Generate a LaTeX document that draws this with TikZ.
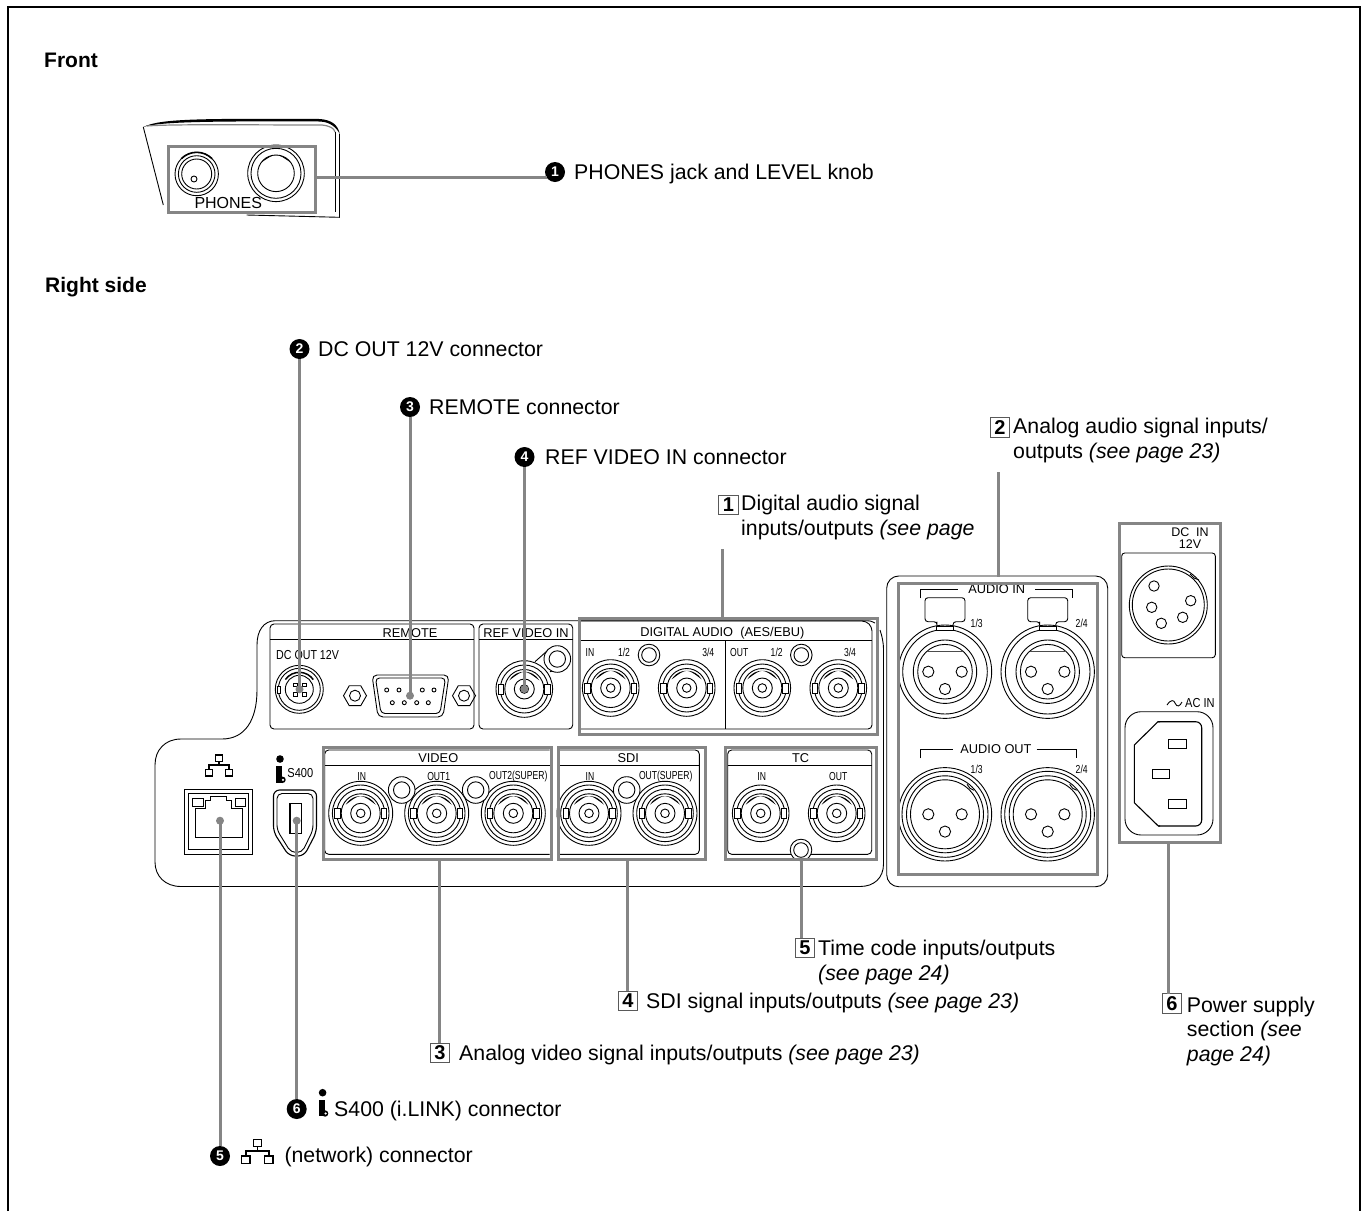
\documentclass[tikz,border=0pt]{standalone}
\usepackage{fontspec}
\setmainfont{Liberation Sans}

\definecolor{leadgray}{gray}{0.52}

\tikzset{
    lbl/.style={font=\fontsize{21.3}{24.8}\selectfont, inner sep=0pt, align=left},
    head/.style={font=\fontsize{21}{24}\selectfont\bfseries, inner sep=0pt},
    paneltxt/.style={font=\fontsize{12.8}{14}\selectfont, inner sep=0pt},
    smalltxt/.style={font=\fontsize{11.6}{13}\selectfont, inner sep=0pt, xscale=.74},
    numdot/.style={circle, fill=black, text=white, font=\fontsize{14}{14}\selectfont\bfseries, inner sep=0pt, minimum size=20pt},
    numbox/.style={draw=black!65, line width=.9pt, font=\fontsize{20}{20}\selectfont\bfseries, inner sep=0pt, minimum size=19.5pt},
    graybox/.style={draw=leadgray, line width=3.3pt, inner sep=0pt, anchor=north west},
    leader/.style={draw=leadgray, line width=3pt},
    thin line/.style={line width=.9pt},
    bncjack/.pic={
        \draw[thin line, fill=white] (0,0) circle[radius=28.3];
        \draw[thin line] (0,0) circle[radius=24] (0,0) circle[radius=19.5] (0,0) circle[radius=10] (0,0) circle[radius=4.3];
        \fill (210:17.3) arc[start angle=210, end angle=330, radius=17.3] .. controls (0,-20) .. cycle;
        \draw[thin line, fill=white] (-26,-5) rectangle (-20.5,5) (20.5,-5) rectangle (26,5);
    },
    bncwide/.pic={
        \draw[thin line, fill=white] (0,0) circle[radius=32];
        \pic at (0,0) {bncjack};
    },
    holesmall/.pic={
        \draw[thin line, fill=white] (0,0) circle[radius=10.8] (0,0) circle[radius=7.3];
    },
    holewide/.pic={
        \draw[thin line, fill=white] (0,0) circle[radius=13.3] (0,0) circle[radius=8.2];
    },
    xlrpins/.pic={
        \draw[thin line] (-16.7,0) circle[radius=5.6] (16.7,0) circle[radius=5.6] (0,17.3) circle[radius=5.6];
    },
    xlrin/.pic={
        \draw[thin line, rounded corners=3pt] (-8,-40) -- (-8,-47) -- (-8,-50) -- (-20,-50) -- (-20,-74) -- (20,-74) -- (20,-50) -- (8,-50) -- (8,-40);
        \draw[thin line, fill=white] (0,0) circle[radius=46.7] (0,0) circle[radius=42.3];
        \draw[thin line] (0,0) circle[radius=31.7] (0,0) circle[radius=27.3];
        \draw[line width=1.4pt, fill=white] (-8.5,-45.5) rectangle (8.5,-41.5);
        \draw[line width=1.2pt, black!70] (-18,-20) -- (18,-20);
        \pic at (0,0) {xlrpins};
    },
    xlrout/.pic={
        \draw[thin line] (0,0) circle[radius=46.7] (0,0) circle[radius=43] (0,0) circle[radius=38.5] (0,0) circle[radius=34.5];
        \draw[thin line] (22,-30) -- (25,-26) -- (29,-24);
        \pic at (0,0) {xlrpins};
    },
    netsym/.pic={
        \draw[line width=1.4pt] (-3.5,-11) rectangle (3.5,-4.8) (-13.5,3.5) rectangle (-6.5,10) (6.5,3.5) rectangle (13.5,10);
        \draw[line width=1.4pt] (0,-4.8) -- (0,-1) (-10,3.5) -- (-10,-1) -- (10,-1) -- (10,3.5);
    },
    ilinksym/.pic={
        \fill (0,-8.5) circle[radius=3.8];
        \fill (-4,-1.5) rectangle (2,15);
        \fill (2.5,12.3) circle[radius=3.2];
        \fill[white] (3,12.3) circle[radius=1.2];
    },
}

\begin{document}
\begin{tikzpicture}[x=1pt,y=-1pt]
    \useasboundingbox (0,0) rectangle (1361,1211);

    % page frame
    \draw[line width=2.4pt] (8,1211) -- (8,7) -- (1359.7,7) -- (1359.7,1211);

    \node[head, anchor=base west] (fronthead) at (44,67) {Front};
    \node[head, anchor=base west] (sidehead) at (45,292) {Right side};

    % front panel
    \fill (143.3,127) .. controls (160,118.5) and (200,118.5) .. (320,119) .. controls (332,120) and (338,125) .. (339.8,134) .. controls (336,127) and (330,122) .. (320,121.5) .. controls (200,121) and (160,122) .. cycle;
    \draw[leadgray, line width=1.2pt] (147,126) .. controls (170,124) and (250,125) .. (322,125) .. controls (330,126) and (334,128) .. (335,132);
    \draw[thin line] (143.3,127) -- (163.3,205);
    \draw[thin line] (339.5,134) -- (339.5,217.3) -- (246.7,215);
    \draw[thin line] (335,132) -- (335,212);
    \draw[thin line] (196.7,174) circle[radius=21.7] (196.7,174) circle[radius=18.3] (196.7,174) circle[radius=15] (194,179) circle[radius=3];
    \draw[line width=1.6pt] (196.7,174) ++(225:21.7) arc[start angle=225, end angle=315, radius=21.7];
    \draw[thin line] (276,173.3) circle[radius=28.3] (276,173.3) circle[radius=25] (276,173.3) circle[radius=18.3];
    \fill (276,173.3) ++(215:18.3) arc[start angle=215, end angle=325, radius=18.3] .. controls (276,152.3) .. cycle;
    \node[font=\fontsize{16}{16}\selectfont, inner sep=0pt] (phonestxt) at (228.3,203.3) {PHONES};
    \node[graybox, minimum width=147.5pt, minimum height=66pt] (phonesbox) at (166.5,145) {};

    % rear panel outline
    \draw[thin line] (880,630) .. controls (882,636) and (883.5,642) .. (883.5,650) -- (883.5,864) .. controls (883.5,878) and (874,886.5) .. (860,886.5) -- (181,886.5) .. controls (165,886.5) and (155,876) .. (155,862) -- (155,765) .. controls (155,750) and (165,739) .. (181,739) -- (222,739) .. controls (245,739) and (257,720) .. (257,690) -- (257,645) .. controls (257,630) and (264,621) .. (275,620.7) -- (866,620.7) .. controls (870,620.7) and (873,621.5) .. (875,623);
    \draw[thin line, rounded corners=4pt] (270,639) -- (270,624) -- (474,624) -- (474,729) -- (270,729) -- cycle;
    \draw[thin line] (270,639) -- (474,639);
    \draw[thin line, rounded corners=4pt] (479,639) -- (479,624) -- (572.7,624) -- (572.7,729) -- (479,729) -- cycle;
    \draw[thin line] (479,639) -- (572.7,639);
    \draw[thin line, rounded corners=4pt] (579,621) -- (866,621) -- (872,627) -- (872,729) -- (579,729);
    \draw[thin line] (579,640.7) -- (872,640.7) (725,640.7) -- (725,729);

    % dc out
    \draw[thin line] (299.3,689.3) circle[radius=24] (299.3,689.3) circle[radius=21] (299.3,689.3) circle[radius=14];
    \draw[thin line, fill=white] (277,686) rectangle (280,693);
    \foreach \x in {293.5,302} {
        \draw[thin line] (\x,683) rectangle ++(4,3.5) (\x,692.5) rectangle ++(4,3.5);
    }
    \draw[line width=1.5pt] (299.3,689.3) ++(215:17) arc[start angle=215, end angle=325, radius=17];

    % remote connector
    \draw[thin line, rounded corners=5pt] (372,675) -- (449,675) -- (443,717) -- (378,717) -- cycle;
    \draw[thin line, rounded corners=4pt] (375.5,678) -- (445.5,678) -- (440,713.5) -- (381,713.5) -- cycle;
    \foreach \x in {386.7,399,422.3,434} \draw[thin line] (\x,690) circle[radius=2];
    \foreach \x in {392.3,404.3,416.7,428.3} \draw[thin line] (\x,702.7) circle[radius=2];
    \foreach \x in {355,464} {
        \draw[thin line] (\x,695.7) ++(0:11.5) -- ++(120:11.5) -- ++(180:11.5) -- ++(240:11.5) -- ++(300:11.5) -- ++(0:11.5) -- cycle;
        \draw[thin line] (\x,695.7) circle[radius=5.5];
    }

    % ref video in
    \draw[thin line] (535,661.7) -- (550,648.3) (550,671.7) -- (565,668);
    \pic at (524.3,689) {bncjack};
    \pic at (557.3,659) {holewide};

    % digital audio
    \foreach \x in {610.7,686.7,762.3,838.3} \pic at (\x,688) {bncjack};
    \pic at (649,655) {holesmall};
    \pic at (801.3,655) {holesmall};

    % network and i.link ports
    \pic at (219,766) {netsym};
    \draw[thin line] (184.3,789) rectangle (252.7,854) (188.3,793.3) rectangle (248.3,849.3);
    \draw[thin line] (195,808.3) -- (205,808.3) -- (205,800.7) -- (210,800.7) -- (210,796.7) -- (226.7,796.7) -- (226.7,800.7) -- (231.7,800.7) -- (231.7,808.3) -- (242.3,808.3) -- (242.3,837.3) -- (195,837.3) -- cycle;
    \draw[thin line] (192.3,798.3) rectangle (203.3,806) (235,798.3) rectangle (245,806);
    \pic at (280,767.5) {ilinksym};
    \node[font=\fontsize{13}{13}\selectfont, inner sep=0pt, xscale=.85, anchor=west] (s400txt) at (287.3,772.7) {S400};
    \draw[line width=1.1pt, rounded corners=6pt] (273.5,790) -- (316.5,790) -- (316.5,832) -- (304,856) -- (289,856) -- (273.5,832) -- cycle;
    \draw[thin line, rounded corners=5pt] (277,793.5) -- (313,793.5) -- (313,830) -- (302,852.5) -- (291,852.5) -- (277,830) -- cycle;
    \draw[line width=1.1pt] (290,803.3) rectangle (301.7,833.3);

    % video, sdi, tc
    \draw[thin line, rounded corners=4pt] (549.7,750) -- (324.7,750) -- (324.7,854.3) -- (549.7,854.3);
    \draw[thin line] (324.7,765) -- (549.7,765);
    \foreach \x in {360.7,436.7,513.3} \pic at (\x,813.3) {bncwide};
    \pic at (401.7,790) {holewide};
    \pic at (475.7,790) {holewide};
    \draw[thin line, rounded corners=4pt] (558,750) -- (699.3,750) -- (699.3,854.3) -- (558,854.3);
    \draw[thin line] (558,765) -- (699.3,765);
    \pic at (589,813.3) {bncwide};
    \pic at (665,813.3) {bncwide};
    \pic at (626.7,790) {holewide};
    \draw[thin line, rounded corners=4pt] (727.7,765) -- (727.7,750) -- (871.7,750) -- (871.7,854.3) -- (727.7,854.3) -- cycle;
    \draw[thin line] (727.7,765) -- (871.7,765);
    \pic at (760.7,813.3) {bncjack};
    \pic at (836.7,813.3) {bncjack};
    \pic at (801,850) {holesmall};

    % audio panel
    \draw[thin line, rounded corners=12pt] (886.7,576) rectangle (1107.7,886.7);
    \pic at (945,671.7) {xlrin};
    \pic at (1047.7,671.7) {xlrin};
    \pic at (945,814.3) {xlrout};
    \pic at (1047.7,814.3) {xlrout};
    \draw[thin line] (920.7,598.3) -- (920.7,589.3) -- (958.3,589.3) (1035,589.3) -- (1072.7,589.3) -- (1072.7,598.3);
    \draw[thin line] (920.7,758.3) -- (920.7,749) -- (953.3,749) (1036.7,749) -- (1076,749) -- (1076,758.3);
    \node[paneltxt] (audiointxt) at (996.7,589.3) {AUDIO IN};
    \node[paneltxt] (audioouttxt) at (996,749) {AUDIO OUT};

    % power section
    \draw[thin line, rounded corners=3pt] (1121.7,553) rectangle (1215.3,657.7);
    \draw[thin line] (1168.3,605) circle[radius=39] (1168.3,605) circle[radius=36];
    \draw[thin line] (1190,574) -- (1194,578) -- (1199,580);
    \foreach \x/\y in {1154/586,1151.7/607.3,1161.3/623.3,1182.7/617.3,1190.7/600.7} \draw[thin line] (\x,\y) circle[radius=5.2];
    \draw[thin line, rounded corners=16pt] (1125,711.7) rectangle (1213,835);
    \draw[line width=1.1pt, rounded corners=6pt] (1158,721.7) -- (1201.7,721.7) -- (1201.7,826) -- (1158.3,826);
    \draw[line width=1.1pt] (1160,721.7) -- (1158,721.7) -- (1134.3,745) -- (1134.3,802.7) -- (1158.3,826) -- (1160,826);
    \draw[thin line] (1168.3,739) rectangle (1186,748) (1152.3,769.3) rectangle (1169.7,778.3) (1168.3,799.3) rectangle (1186,808.3);
    \draw[thin line] (1167,705) .. controls (1171,699) and (1174,700) .. (1175,703) .. controls (1177,708) and (1180,706) .. (1182,702);
    \node[font=\fontsize{13}{13}\selectfont, inner sep=0pt, xscale=.85, anchor=west] (acintxt) at (1185,703) {AC IN};
    \node[font=\fontsize{12.5}{13}\selectfont, inner sep=0pt] (dcintxt) at (1190,531.7) {DC\ \ IN};
    \node[font=\fontsize{12.5}{13}\selectfont, inner sep=0pt] (twelvetxt) at (1190,544.3) {12V};

    % panel texts
    \node[paneltxt] (remotetxt) at (410,632.7) {REMOTE};
    \node[paneltxt] (reftxt) at (526,632.7) {REF VIDEO IN};
    \node[paneltxt] (digitxt) at (722.3,632.7) {DIGITAL AUDIO\ \ (AES/EBU)};
    \node[paneltxt] (videotxt) at (438.3,758.3) {VIDEO};
    \node[paneltxt] (sditxt) at (628.3,758.3) {SDI};
    \node[paneltxt] (tctxt) at (800.7,758.3) {TC};
    \node[font=\fontsize{13}{13}\selectfont, inner sep=0pt, xscale=.82, anchor=west] (dcouttxt) at (276,655) {DC OUT 12V};
    \foreach \x/\y/\t/\n in {590/652.7/IN/t1, 624/652.7/1\slash 2/t2, 708.3/652.7/3\slash 4/t3, 739.3/652.7/OUT/t4, 776.7/652.7/1\slash 2/t5, 850/652.7/3\slash 4/t6,
        361.7/776.7/IN/t7, 438.7/776.7/OUT1/t8, 518.3/776.7/OUT2(SUPER)/t9, 590/776.7/IN/t10, 665.7/776.7/OUT(SUPER)/t11, 761.7/776.7/IN/t12, 838.3/776.7/OUT/t13,
        976.7/623.3/1\slash 3/t14, 1081.7/623.3/2\slash 4/t15, 976.7/769/1\slash 3/t16, 1081.7/769/2\slash 4/t17} {
        \node[smalltxt] (\n) at (\x,\y) {\t};
    }

    % gray frames
    \node[graybox, minimum width=298pt, minimum height=116pt] (digibox) at (577.5,616.5) {};
    \node[graybox, minimum width=228.5pt, minimum height=112pt] (videobox) at (321.5,746) {};
    \node[graybox, minimum width=147pt, minimum height=112pt] (sdibox) at (556.5,746) {};
    \node[graybox, minimum width=151pt, minimum height=112pt] (tcbox) at (724,746) {};
    \node[graybox, minimum width=199pt, minimum height=291pt] (audiobox) at (896.5,581.5) {};
    \node[graybox, minimum width=101pt, minimum height=319.5pt] (powerbox) at (1118,521.5) {};

    % callouts
    \node[numdot] (no1) at (555,172) {1};
    \node[lbl, anchor=base west] (txt1) at (574,179) {PHONES jack and LEVEL knob};
    \node[numdot] (no2) at (299.5,349) {2};
    \node[lbl, anchor=base west] (txt2) at (318,356) {DC OUT 12V connector};
    \node[numdot] (no3) at (410,407) {3};
    \node[lbl, anchor=base west] (txt3) at (429,414) {REMOTE connector};
    \node[numdot] (no4) at (524.5,457) {4};
    \node[lbl, anchor=base west] (txt4) at (545,464) {REF VIDEO IN connector};
    \node[numdot] (no5) at (220,1156) {5};
    \pic[scale=1.15] at (257.3,1152) {netsym};
    \node[lbl, anchor=base west] (txt5) at (284.3,1162.7) {(network) connector};
    \node[numdot] (no6) at (296.7,1109) {6};
    \pic at (322.6,1101.2) {ilinksym};
    \node[lbl, anchor=base west] (txt6) at (334,1116) {S400 (i.LINK) connector};

    \node[numbox] (box1) at (728.5,505) {1};
    \node[lbl, anchor=north west] (boxtxt1) at (741,494.7) {Digital audio signal\\inputs/outputs \textit{(see page}};
    \node[numbox] (box2) at (1000,427.5) {2};
    \node[lbl, anchor=north west] (boxtxt2) at (1013,417.7) {Analog audio signal inputs/\\outputs \textit{(see page 23)}};
    \node[numbox] (box3) at (440,1053) {3};
    \node[lbl, anchor=base west] (boxtxt3) at (459,1060) {Analog video signal inputs/outputs \textit{(see page 23)}};
    \node[numbox] (box4) at (628,1001) {4};
    \node[lbl, anchor=base west] (boxtxt4) at (646,1008) {SDI signal inputs/outputs \textit{(see page 23)}};
    \node[numbox] (box5) at (805,948) {5};
    \node[lbl, anchor=north west] (boxtxt5) at (818,939.7) {Time code inputs/outputs\\\textit{(see page 24)}};
    \node[numbox] (box6) at (1172,1003.5) {6};
    \node[lbl, anchor=north west] (boxtxt6) at (1186.7,996.4) {Power supply\\section \textit{(see}\\\textit{page 24)}};

    % leader lines
    \coordinate (dcpin) at (299.5,689.3);
    \coordinate (remotepin) at (410,695.7);
    \coordinate (refpin) at (524.5,689);
    \coordinate (lanpin) at (220,820.7);
    \coordinate (ilinkpin) at (296.7,820.7);
    \fill[leadgray] (dcpin) circle[radius=4] (remotepin) circle[radius=4] (refpin) circle[radius=4] (lanpin) circle[radius=4] (ilinkpin) circle[radius=4];
    \coordinate (end1) at (547,177);
    \draw[leader] (phonesbox.east |- end1) -- (end1);
    \draw[leader] (no2) -- (dcpin);
    \draw[leader] (no3) -- (remotepin);
    \draw[leader] (no4) -- (refpin);
    \draw[leader] (lanpin) -- (no5);
    \draw[leader] (ilinkpin) -- (no6);
    \coordinate (up1) at (722,549);
    \draw[leader] (up1) -- (digibox.north -| up1);
    \coordinate (up2) at (998,472);
    \coordinate (audiotop) at (998,576.5);
    \draw[leader] (up2) -- (audiotop);
    \coordinate (down3) at (439,1043);
    \draw[leader] (videobox.south -| down3) -- (down3);
    \coordinate (down4) at (627,991);
    \draw[leader] (sdibox.south -| down4) -- (down4);
    \coordinate (down5) at (801,938);
    \draw[leader] (tcbox.south -| down5) -- (down5);
    \coordinate (down6) at (1168.3,994);
    \draw[leader] (powerbox.south -| down6) -- (down6);
\end{tikzpicture}
\end{document}
